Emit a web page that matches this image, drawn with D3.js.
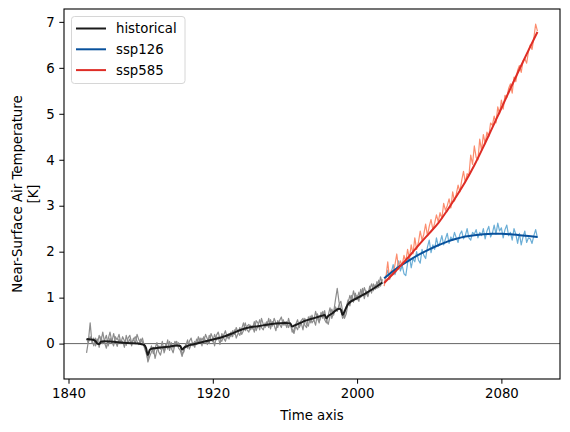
<!DOCTYPE html>
<html>
<head>
<meta charset="utf-8">
<script src="https://cdn.jsdelivr.net/npm/d3@7"></script>
<style>
  body { margin: 0; background: #fff; }
  svg text { font-family: "DejaVu Sans", sans-serif; font-size: 13.3px; fill: #000; }
</style>
</head>
<body>
<svg id="chart" width="570" height="432"></svg>
<script>
// historical members, one value per year 1850..2014
const histStart = 1850;
const histMemberA = [
  -0.20, 0.05, 0.45, 0.02, 0.12, -0.05, 0.10, -0.08, 0.15, 0.00,
  0.08, 0.18, -0.05, 0.12, 0.02, 0.22, 0.05, -0.06, 0.10, 0.00,
  0.15, 0.06, -0.04, 0.12, 0.18, 0.02, 0.08, 0.15, 0.05, -0.02,
  0.10, 0.04, -0.08, -0.20, -0.35, -0.15, -0.05, -0.22, -0.10, 0.02,
  -0.18, -0.25, -0.08, -0.15, 0.00, -0.12, 0.05, -0.10, -0.20, -0.02,
  0.05, -0.10, -0.15, -0.28, -0.12, -0.05, 0.08, -0.12, -0.02, 0.02,
  -0.08, 0.10, 0.02, 0.12, -0.05, 0.15, 0.05, -0.02, 0.18, 0.08,
  0.04, 0.20, 0.08, 0.15, -0.02, 0.22, 0.12, 0.05, 0.20, 0.10,
  0.25, 0.15, 0.30, 0.12, 0.22, 0.35, 0.20, 0.28, 0.45, 0.30,
  0.25, 0.40, 0.32, 0.48, 0.28, 0.38, 0.52, 0.35, 0.30, 0.45,
  0.38, 0.55, 0.32, 0.48, 0.40, 0.28, 0.50, 0.42, 0.35, 0.52,
  0.40, 0.48, 0.35, 0.45, 0.25, 0.30, 0.42, 0.52, 0.35, 0.45,
  0.30, 0.55, 0.42, 0.38, 0.60, 0.45, 0.52, 0.40, 0.65, 0.48,
  0.58, 0.70, 0.52, 0.45, 0.62, 0.78, 0.55, 0.68, 0.95, 1.20,
  0.90, 0.72, 0.55, 0.62, 0.80, 0.95, 0.82, 1.05, 0.90, 1.10,
  0.95, 1.12, 1.00, 1.20, 0.98, 1.15, 1.05, 1.25, 1.10, 1.30,
  1.18, 1.35, 1.22, 1.45, 1.30
];
const histMemberB = [
  0.10, 0.02, 0.15, 0.08, -0.05, 0.12, 0.00, 0.18, 0.05, 0.25,
  0.02, -0.10, 0.10, 0.25, 0.05, -0.05, 0.15, 0.08, 0.20, 0.02,
  0.05, -0.08, 0.18, 0.02, 0.10, -0.05, 0.12, 0.00, 0.20, 0.08,
  0.02, 0.12, -0.05, -0.10, -0.40, -0.28, -0.18, -0.08, -0.32, -0.15,
  -0.05, -0.12, 0.05, -0.20, -0.08, 0.08, -0.15, 0.02, -0.10, 0.05,
  -0.05, 0.02, -0.08, -0.22, -0.18, 0.00, -0.10, 0.05, 0.12, -0.05,
  0.05, -0.02, 0.15, 0.00, 0.12, 0.05, 0.20, 0.10, 0.00, 0.22,
  0.12, -0.05, 0.18, 0.25, 0.10, 0.05, 0.18, 0.28, 0.12, 0.22,
  0.15, 0.28, 0.20, 0.35, 0.25, 0.18, 0.32, 0.45, 0.28, 0.38,
  0.42, 0.30, 0.38, 0.25, 0.50, 0.45, 0.30, 0.55, 0.42, 0.35,
  0.48, 0.35, 0.52, 0.38, 0.55, 0.45, 0.35, 0.50, 0.58, 0.40,
  0.48, 0.35, 0.55, 0.40, 0.32, 0.22, 0.38, 0.30, 0.45, 0.50,
  0.55, 0.40, 0.35, 0.58, 0.45, 0.62, 0.50, 0.70, 0.55, 0.45,
  0.68, 0.55, 0.72, 0.50, 0.42, 0.60, 0.75, 0.62, 0.80, 0.70,
  0.85, 0.92, 0.70, 0.55, 0.65, 0.88, 1.05, 0.92, 1.15, 0.98,
  1.05, 0.92, 1.18, 1.05, 1.22, 1.10, 1.02, 1.18, 1.30, 1.15,
  1.28, 1.20, 1.38, 1.25, 1.40
];

// smoothed historical mean (read at irregular years)
const histMeanYears = [1850, 1852, 1854, 1855, 1856, 1857, 1858, 1860, 1865, 1870, 1875, 1880, 1882, 1883, 1884, 1885, 1886, 1888, 1890, 1895,
  1900, 1902, 1903, 1904, 1906, 1910, 1915, 1920, 1925, 1930, 1935, 1940, 1945, 1950, 1955, 1960, 1963, 1964, 1965, 1968,
  1970, 1975, 1980, 1982, 1983, 1984, 1986, 1990, 1991, 1992, 1993, 1995, 2000, 2005, 2010, 2014];
const histMeanVals = [0.10, 0.09, 0.08, 0.05, 0.00, -0.01, 0.04, 0.05, 0.04, 0.02, 0.01, -0.01, -0.03, -0.10, -0.25, -0.14, -0.11, -0.10, -0.09, -0.07,
  -0.04, -0.05, -0.13, -0.09, -0.05, -0.01, 0.04, 0.09, 0.14, 0.21, 0.29, 0.35, 0.38, 0.41, 0.44, 0.45, 0.44, 0.37, 0.39, 0.44,
  0.48, 0.54, 0.60, 0.62, 0.55, 0.60, 0.65, 0.76, 0.74, 0.62, 0.70, 0.86, 0.99, 1.10, 1.22, 1.33];

// scenarios, one value per year 2015..2100
const sspStart = 2015;
const ssp126Member = [
  1.30, 1.45, 1.60, 1.40, 1.55, 1.72, 1.50, 1.62, 1.80, 1.58,
  1.70, 1.52, 1.48, 1.75, 1.90, 1.65, 1.85, 1.78, 2.00, 1.82,
  1.75, 2.05, 1.92, 1.85, 2.10, 2.25, 1.98, 2.15, 2.05, 2.30,
  2.12, 2.20, 2.35, 2.15, 2.28, 2.40, 2.18, 2.32, 2.25, 2.42,
  2.30, 2.20, 2.38, 2.45, 2.28, 2.35, 2.50, 2.30, 2.25, 2.42,
  2.38, 2.48, 2.30, 2.42, 2.35, 2.50, 2.28, 2.45, 2.55, 2.32,
  2.40, 2.58, 2.38, 2.62, 2.45, 2.52, 2.30, 2.48, 2.58, 2.35,
  2.42, 2.25, 2.50, 2.38, 2.18, 2.40, 2.15, 2.32, 2.45, 2.20,
  2.30, 2.28, 2.18, 2.35, 2.48, 2.30
];
const ssp585Member = [
  1.25, 1.45, 1.78, 1.40, 1.60, 1.50, 1.72, 1.95, 1.62, 1.80,
  1.70, 1.92, 1.78, 2.05, 1.85, 2.15, 1.95, 2.30, 2.05, 2.20,
  2.45, 2.25, 2.38, 2.60, 2.35, 2.55, 2.70, 2.48, 2.62, 2.80,
  2.65, 2.85, 2.72, 3.05, 2.90, 3.00, 3.15, 2.95, 3.30, 3.10,
  3.25, 3.45, 3.30, 3.55, 3.75, 3.50, 3.70, 3.65, 4.10, 3.90,
  4.30, 4.05, 4.00, 4.45, 4.20, 4.55, 4.35, 4.60, 4.50, 4.80,
  4.75, 4.95, 4.80, 5.15, 5.00, 5.30, 5.10, 5.40, 5.35, 5.55,
  5.65, 5.45, 5.80, 5.70, 5.95, 6.05, 5.90, 6.15, 6.20, 6.10,
  6.35, 6.50, 6.40, 6.65, 6.95, 6.80
];

// smoothed scenario curves, every 5 years
const sspSmoothYears = [2015, 2020, 2025, 2030, 2035, 2040, 2045, 2050, 2055, 2060, 2065, 2070, 2075, 2080, 2085, 2090, 2095, 2100];
const ssp126Smooth = [1.42, 1.58, 1.72, 1.84, 1.95, 2.05, 2.14, 2.22, 2.28, 2.33, 2.36, 2.38, 2.39, 2.39, 2.38, 2.36, 2.34, 2.32];
const ssp585Smooth = [1.32, 1.52, 1.73, 1.95, 2.18, 2.40, 2.62, 2.90, 3.20, 3.52, 3.88, 4.28, 4.70, 5.12, 5.55, 5.97, 6.38, 6.78];

const xTicks = [1840, 1920, 2000, 2080];
const yTicks = [0, 1, 2, 3, 4, 5, 6, 7];
const legendNames = ["historical", "ssp126", "ssp585"];
const legendColors = ["#1a1a1a", "#08519c", "#de2d26"];

const margin = { left: 64, right: 560, top: 9, bottom: 379 };

const svg = d3.select("#chart");

const x = d3.scaleLinear().domain([1837.5, 2112.5]).range([margin.left, margin.right]);
const y = d3.scaleLinear().domain([-0.77, 7.28]).range([margin.bottom, margin.top]);

const line = d3.line().x(d => x(d[0])).y(d => y(d[1]));
const smoothLine = d3.line().x(d => x(d[0])).y(d => y(d[1])).curve(d3.curveMonotoneX);

function annual(start, vals) {
  return vals.map((v, i) => [start + i, v]);
}
function paired(years, vals) {
  return years.map((yr, i) => [yr, vals[i]]);
}

const plot = svg.append("g");

// zero line
plot.append("line")
  .attr("x1", margin.left).attr("x2", margin.right)
  .attr("y1", y(0)).attr("y2", y(0))
  .attr("stroke", "#555").attr("stroke-width", 0.9);

function drawLine(data, gen, color, width) {
  plot.append("path")
    .datum(data)
    .attr("d", gen)
    .attr("fill", "none")
    .attr("stroke", color)
    .attr("stroke-width", width)
    .attr("stroke-linejoin", "round");
}

drawLine(annual(histStart, histMemberA), line, "#8c8c8c", 1.2);
drawLine(annual(histStart, histMemberB), line, "#8c8c8c", 1.2);
drawLine(paired(histMeanYears, histMeanVals), smoothLine, legendColors[0], 2);

drawLine(annual(sspStart, ssp126Member), line, "#6baed6", 1.2);
drawLine(annual(sspStart, ssp585Member), line, "#fc8d6e", 1.2);
drawLine(paired(sspSmoothYears, ssp126Smooth), smoothLine, legendColors[1], 2);
drawLine(paired(sspSmoothYears, ssp585Smooth), smoothLine, legendColors[2], 2);

// axes
const xAxis = svg.append("g")
  .attr("transform", `translate(0,${margin.bottom})`)
  .call(d3.axisBottom(x).tickValues(xTicks).tickFormat(d3.format("d")).tickSize(4.7).tickPadding(4.5));
const yAxis = svg.append("g")
  .attr("transform", `translate(${margin.left},0)`)
  .call(d3.axisLeft(y).tickValues(yTicks).tickFormat(d3.format("d")).tickSize(4.7).tickPadding(4.5));
[xAxis, yAxis].forEach(g => {
  g.select(".domain").remove();
  g.selectAll("line").attr("stroke", "#000").attr("stroke-width", 1);
  g.selectAll("text").attr("font-size", "13.3px").attr("font-family", "DejaVu Sans, sans-serif");
});

// frame
svg.append("rect")
  .attr("x", margin.left).attr("y", margin.top)
  .attr("width", margin.right - margin.left).attr("height", margin.bottom - margin.top)
  .attr("fill", "none").attr("stroke", "#000").attr("stroke-width", 1.1);

// labels
svg.append("text")
  .attr("x", (margin.left + margin.right) / 2).attr("y", 420)
  .attr("text-anchor", "middle").text("Time axis");
svg.append("text")
  .attr("transform", `translate(22,${(margin.top + margin.bottom) / 2}) rotate(-90)`)
  .attr("text-anchor", "middle").text("Near-Surface Air Temperature");
svg.append("text")
  .attr("transform", `translate(38,${(margin.top + margin.bottom) / 2}) rotate(-90)`)
  .attr("text-anchor", "middle").text("[K]");

// legend
const legend = svg.append("g");
legend.append("rect")
  .attr("x", 71.5).attr("y", 16.5).attr("width", 113.5).attr("height", 67)
  .attr("rx", 3).attr("fill", "#fff").attr("fill-opacity", 0.8)
  .attr("stroke", "#d6d6d6").attr("stroke-width", 1);
legendNames.forEach((name, i) => {
  const ly = 28.5 + i * 20.8;
  legend.append("line")
    .attr("x1", 76).attr("x2", 106).attr("y1", ly).attr("y2", ly)
    .attr("stroke", legendColors[i]).attr("stroke-width", 2);
  legend.append("text").attr("x", 116).attr("y", ly + 4.8).text(name);
});
</script>
</body>
</html>
